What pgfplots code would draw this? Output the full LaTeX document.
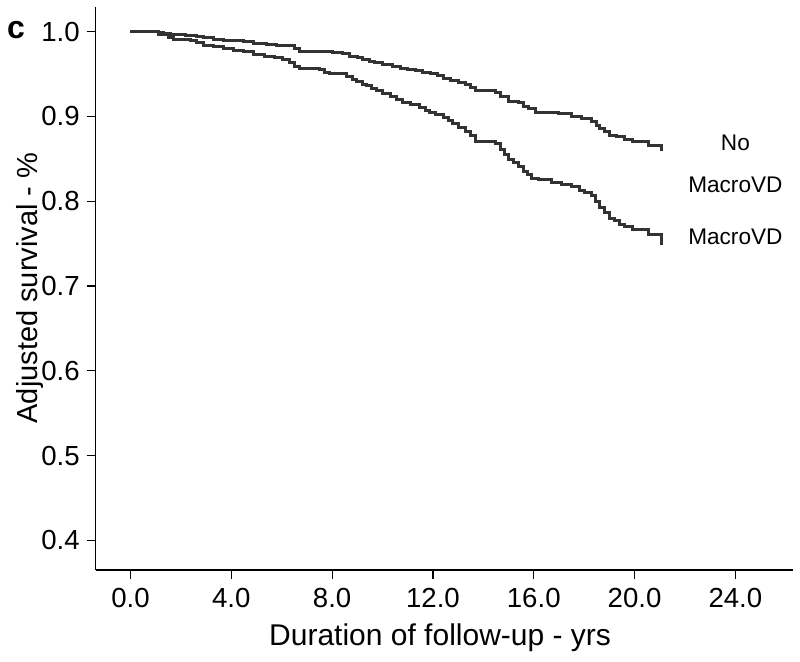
\documentclass[border=0pt]{standalone}
\usepackage{pgfplots}
\pgfplotsset{compat=1.18}
\usepackage{fontspec}
\setmainfont{Liberation Sans}
\definecolor{curve}{HTML}{333333}
\begin{document}
\begin{tikzpicture}
\path[use as bounding box] (-47.85pt,-46pt) rectangle (352.15pt,285pt);
\begin{axis}[
  at={(0pt,0pt)}, anchor=south west,
  scale only axis, width=348.7pt, height=281.5pt,
  xmin=-1.38, xmax=26.29, ymin=0.365, ymax=1.029,
  axis x line*=bottom, axis y line*=left,
  axis line style={line width=0.6pt, -},
  xtick={0,4,...,24}, ytick={0.4,0.5,...,1.0},
  tick align=outside, major tick length=4.5pt,
  tick style={line width=0.6pt, black},
  tick label style={font=\fontsize{13.8}{16}\selectfont},
  /pgf/number format/fixed, /pgf/number format/fixed zerofill, /pgf/number format/precision=1,
  /pgf/number format/assume math mode=true,
  xticklabel style={yshift=-1pt},
  clip=false,
]
\addplot[const plot, color=curve, line width=1.5pt] coordinates {
(0,1.000) (0.9,1.000) (1.1,0.999) (1.3,0.998) (1.6,0.997) (1.9,0.996) (2.2,0.995)
(2.6,0.994) (2.9,0.993) (3.3,0.991) (3.7,0.990) (4.1,0.989) (4.5,0.988) (4.9,0.986)
(5.4,0.985) (5.8,0.984) (6.2,0.983) (6.5,0.980) (6.7,0.977) (7.4,0.976) (8.0,0.975)
(8.4,0.974) (8.7,0.971) (9.0,0.969) (9.2,0.967) (9.5,0.965) (9.7,0.963) (10.0,0.961)
(10.4,0.959) (10.7,0.957) (11.0,0.955) (11.3,0.954) (11.6,0.952) (11.9,0.950)
(12.2,0.948) (12.4,0.945) (12.7,0.942) (13.0,0.940) (13.3,0.938) (13.5,0.934)
(13.7,0.930) (14.5,0.928) (14.7,0.924) (15.0,0.918) (15.4,0.916) (15.6,0.912)
(15.8,0.909) (16.07,0.905) (16.6,0.904) (17.0,0.903) (17.5,0.900) (17.9,0.898)
(18.3,0.894) (18.5,0.889) (18.6,0.886) (18.8,0.882) (19.0,0.878) (19.3,0.876)
(19.6,0.873) (19.9,0.870) (20.55,0.866) (21.08,0.859)
};
\addplot[const plot, color=curve, line width=1.5pt] coordinates {
(0,1.000) (0.9,1.000) (1.1,0.997) (1.3,0.996) (1.5,0.993) (1.7,0.991) (2.37,0.989)
(2.6,0.987) (2.9,0.984) (3.3,0.982) (3.7,0.980) (4.1,0.978) (4.5,0.976) (4.9,0.973)
(5.3,0.971) (5.7,0.969) (6.05,0.967) (6.3,0.963) (6.5,0.959) (6.7,0.956) (7.5,0.955)
(7.7,0.952) (7.9,0.950) (8.56,0.947) (8.8,0.944) (8.96,0.941) (9.2,0.938) (9.35,0.936)
(9.55,0.933) (9.75,0.930) (10.0,0.927) (10.3,0.923) (10.55,0.920) (10.8,0.916)
(11.1,0.914) (11.46,0.911) (11.7,0.907) (11.86,0.904) (12.1,0.902) (12.4,0.899)
(12.6,0.895) (12.77,0.891) (13.0,0.887) (13.3,0.882) (13.5,0.877) (13.7,0.870)
(14.5,0.868) (14.7,0.861) (14.85,0.855) (15.0,0.849) (15.2,0.845) (15.4,0.841)
(15.6,0.835) (15.75,0.831) (15.9,0.827) (16.2,0.825) (16.7,0.822) (17.1,0.820)
(17.5,0.817) (17.8,0.813) (18.0,0.810) (18.3,0.807) (18.45,0.800) (18.6,0.793)
(18.8,0.787) (19.0,0.780) (19.2,0.777) (19.4,0.773) (19.6,0.770) (19.9,0.767)
(20.55,0.761) (21.08,0.748)
};
\node[font=\fontsize{11.3}{21}\selectfont, align=center] at (axis cs:24.0,0.844) {No\\MacroVD};
\node[font=\fontsize{11.3}{21}\selectfont] at (axis cs:24.0,0.758) {MacroVD};
\end{axis}
\node[rotate=90, font=\fontsize{14.5}{17}\selectfont] at (-32.85pt,141pt) {Adjusted survival - \%};
\node[font=\fontsize{15}{18}\selectfont] at (172.2pt,-34pt) {Duration of follow-up - yrs};
\node[font=\fontsize{16}{19}\selectfont\bfseries] at (-39.85pt,270pt) {c};
\end{tikzpicture}
\end{document}
